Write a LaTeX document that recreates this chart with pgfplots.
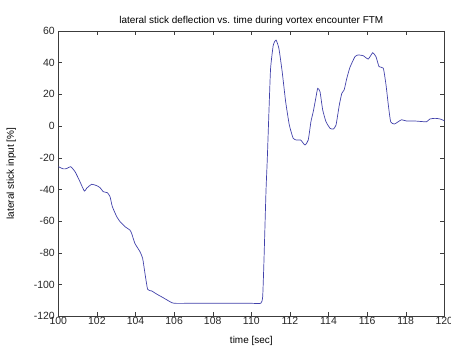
\documentclass[border=0pt]{standalone}
\usepackage{pgfplots}
\pgfplotsset{compat=1.18}
\usepackage{fontspec}
\setmainfont{Liberation Sans}
\definecolor{linec}{RGB}{65,65,170}
\definecolor{framec}{RGB}{60,60,60}
\begin{document}
\begin{tikzpicture}
\begin{axis}[
  scale only axis,
  width=386bp, height=285.3bp,
  xmin=100, xmax=120, ymin=-120, ymax=60,
  xtick={100,102,...,120}, ytick={-120,-100,...,60},
  tick align=inside,
  major tick length=4bp,
  axis line style={framec},
  every tick/.style={framec},
  /pgf/number format/assume math mode=true,
  /pgf/number format/1000 sep={},
  ticklabel style={font=\fontsize{10.5}{12}\selectfont, text=black!85},
  xticklabel style={yshift=2.5bp},
  yticklabel style={xshift=0bp},
  title={lateral stick deflection vs. time during vortex encounter FTM},
  title style={font=\fontsize{10}{12}\selectfont, yshift=-4bp},
  xlabel={time [sec]},
  ylabel={lateral stick input [\%]},
  label style={font=\fontsize{10}{12}\selectfont},
  xlabel style={yshift=-5bp},
  ylabel style={yshift=11bp},
]
\addplot[linec, line width=0.7pt, smooth, tension=0.3] coordinates {
(100,-25.6) (100.26,-27) (100.43,-26.8) (100.64,-25.6) (100.87,-28.8) (101.12,-35)
(101.35,-41) (101.47,-39.2) (101.73,-36.7) (101.99,-37.6) (102.16,-38.8) (102.33,-41.4)
(102.54,-42) (102.68,-44.5) (102.8,-50.8) (103.03,-57.2) (103.2,-60.3) (103.46,-63.5)
(103.71,-65.6) (103.8,-67.7) (103.97,-74) (104.23,-79.2) (104.37,-83.4) (104.49,-92.9)
(104.63,-103) (104.84,-104) (105.1,-106) (105.44,-108.3) (105.79,-110.8) (106,-111.8)
(107,-111.8) (108,-111.8) (109,-111.8) (110,-111.8) (110.49,-111.8)
(110.59,-107.6) (110.66,-83.4) (110.76,-41.4) (110.83,-20.3) (110.92,11.2) (111.0,36.5)
(111.14,51.2) (111.28,54.3) (111.43,49) (111.6,34.3) (111.78,15.4) (111.97,0.7)
(112.17,-7.7) (112.35,-8.8) (112.56,-8.8) (112.78,-11.9) (112.95,-8.8) (113.09,2.8)
(113.21,9.1) (113.34,17.5) (113.44,23.8) (113.56,21.7) (113.7,10.2) (113.87,2.8)
(114.08,-1.4) (114.25,-1.8) (114.39,0.7) (114.56,13.3) (114.69,20.7) (114.81,22.8)
(114.95,30.2) (115.11,37) (115.37,43.8) (115.54,44.9) (115.8,44.4) (116.06,42.3)
(116.29,46.3) (116.46,43.8) (116.62,37.5) (116.84,36.5) (116.98,26) (117.1,13.3)
(117.22,2.8) (117.41,1.3) (117.62,2.8) (117.79,4.0) (118.05,3.2) (118.48,3.2)
(118.91,2.8) (119.09,2.8) (119.26,4.5) (119.52,4.9) (119.78,4.5) (120,3.4)
};
\end{axis}
\pgfresetboundingbox
\path (current axis.south west) ++(-58.3bp,-29.7bp) coordinate (bl);
\path (current axis.north east) ++(6.7bp,31bp) coordinate (tr);
\path (bl) rectangle (tr);
\end{tikzpicture}
\end{document}
